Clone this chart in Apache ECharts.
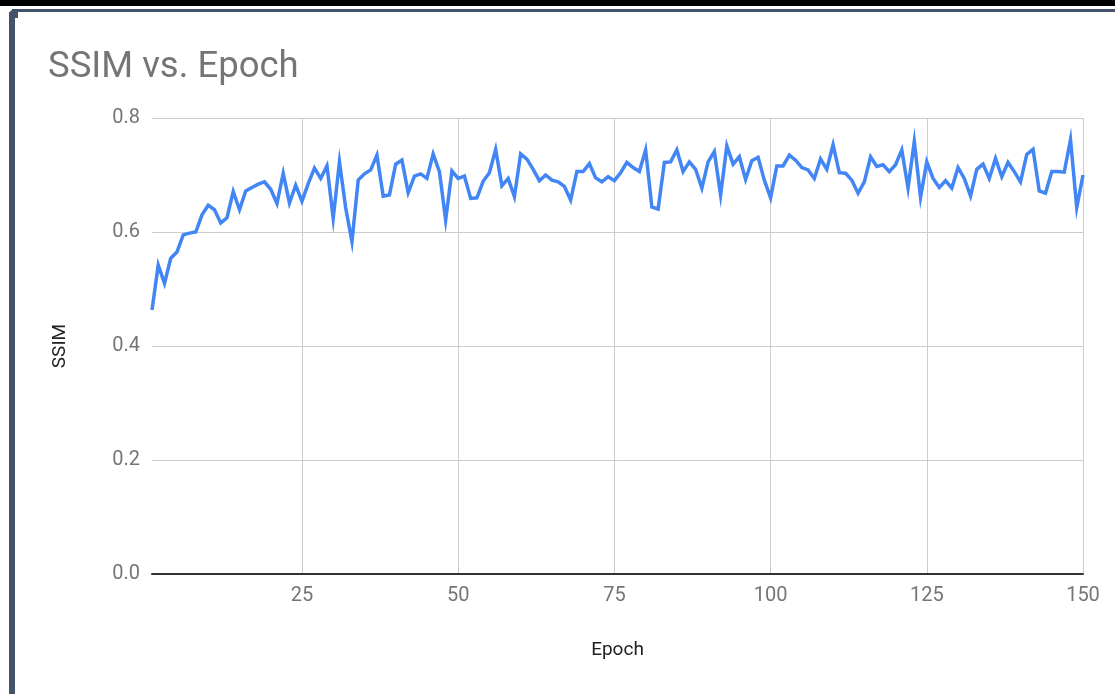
<!DOCTYPE html>
<html>
<head>
<meta charset="utf-8">
<script src="https://cdn.jsdelivr.net/npm/echarts@6/dist/echarts.min.js"></script>
<style>
  html, body { margin: 0; padding: 0; background: #fff; }
  #chart { width: 1115px; height: 694px; }
</style>
</head>
<body>
<div id="chart"></div>
<script>
// ---- data ----
const titleText = 'SSIM vs. Epoch';
const xAxisTitle = 'Epoch';
const yAxisTitle = 'SSIM';
const xTickValues = [25, 50, 75, 100, 125, 150];
const firstEpoch = 1;
const ssimValues = [
  0.463, 0.542, 0.510, 0.554, 0.565, 0.595, 0.598, 0.600, 0.630, 0.647,
  0.639, 0.616, 0.625, 0.671, 0.639, 0.672, 0.678, 0.684, 0.688, 0.675,
  0.650, 0.703, 0.651, 0.682, 0.654, 0.685, 0.712, 0.694, 0.716, 0.624,
  0.723, 0.642, 0.583, 0.691, 0.702, 0.709, 0.735, 0.663, 0.665, 0.719,
  0.726, 0.669, 0.698, 0.702, 0.694, 0.737, 0.706, 0.621, 0.707, 0.694,
  0.698, 0.659, 0.660, 0.689, 0.704, 0.745, 0.681, 0.694, 0.662, 0.737,
  0.728, 0.710, 0.690, 0.700, 0.691, 0.688, 0.680, 0.656, 0.706, 0.706,
  0.720, 0.695, 0.688, 0.697, 0.690, 0.704, 0.722, 0.713, 0.706, 0.744,
  0.644, 0.640, 0.722, 0.723, 0.744, 0.706, 0.723, 0.710, 0.677, 0.723,
  0.741, 0.665, 0.751, 0.719, 0.732, 0.692, 0.725, 0.731, 0.691, 0.660,
  0.716, 0.716, 0.735, 0.726, 0.713, 0.709, 0.694, 0.728, 0.710, 0.753,
  0.704, 0.703, 0.691, 0.668, 0.688, 0.732, 0.715, 0.718, 0.706, 0.718,
  0.744, 0.677, 0.759, 0.661, 0.723, 0.694, 0.678, 0.690, 0.677, 0.713,
  0.694, 0.663, 0.710, 0.719, 0.694, 0.729, 0.697, 0.722, 0.706, 0.688,
  0.736, 0.745, 0.672, 0.668, 0.706, 0.706, 0.705, 0.762, 0.643, 0.700
];
// ---- build ----
const seriesData = ssimValues.map((v, i) => [firstEpoch + i, v]);
const FONT = 'Roboto';
const chart = echarts.init(document.getElementById('chart'), null, { renderer: 'canvas' });
chart.setOption({
  animation: false,
  backgroundColor: '#ffffff',
  textStyle: { fontFamily: FONT },
  title: {
    text: titleText,
    left: 43, top: 44,
    textStyle: { fontFamily: FONT, fontSize: 36.5, fontWeight: 'normal', color: '#757575' }
  },
  graphic: [
    { type: 'rect', left: 0, top: 0, shape: { width: 1115, height: 6 }, style: { fill: '#000' } },
    { type: 'rect', left: 9, top: 12, shape: { width: 6, height: 700 }, style: { fill: '#45536a' } },
    { type: 'rect', left: 12, top: 9, shape: { width: 1110, height: 3 }, style: { fill: '#45536a' } },
    { type: 'rect', left: 9, top: 9, shape: { width: 9, height: 9, r: [6, 0, 0, 0] }, style: { fill: '#45536a' } }
  ],
  grid: { left: 152, right: 32, top: 118, bottom: 120, containLabel: false },
  xAxis: {
    type: 'value',
    min: firstEpoch, max: 150,
    name: xAxisTitle,
    nameLocation: 'middle',
    nameGap: 67,
    nameTextStyle: { fontFamily: FONT, fontSize: 19, color: '#222222' },
    axisLine: { show: true, onZero: false, lineStyle: { color: '#333333', width: 2 } },
    axisTick: { show: false, customValues: xTickValues },
    axisLabel: { customValues: xTickValues, margin: 12, fontFamily: FONT, fontSize: 20, color: '#757575' },
    splitLine: { show: true, lineStyle: { color: '#cccccc', width: 1 } }
  },
  yAxis: {
    type: 'value',
    min: 0, max: 0.8, interval: 0.2,
    name: yAxisTitle,
    nameLocation: 'middle',
    nameGap: 82,
    nameRotate: 90,
    nameTextStyle: { fontFamily: FONT, fontSize: 19, color: '#222222' },
    axisLine: { show: false },
    axisTick: { show: false },
    axisLabel: { margin: 12, fontFamily: FONT, fontSize: 20, color: '#757575',
      formatter: v => v.toFixed(1) },
    splitLine: { show: true, lineStyle: { color: '#cccccc', width: 1 } }
  },
  series: [{
    type: 'line',
    data: seriesData,
    showSymbol: false,
    smooth: false,
    lineStyle: { color: '#4285f4', width: 3.5, join: 'miter' },
    itemStyle: { color: '#4285f4' }
  }]
});
</script>
</body>
</html>
